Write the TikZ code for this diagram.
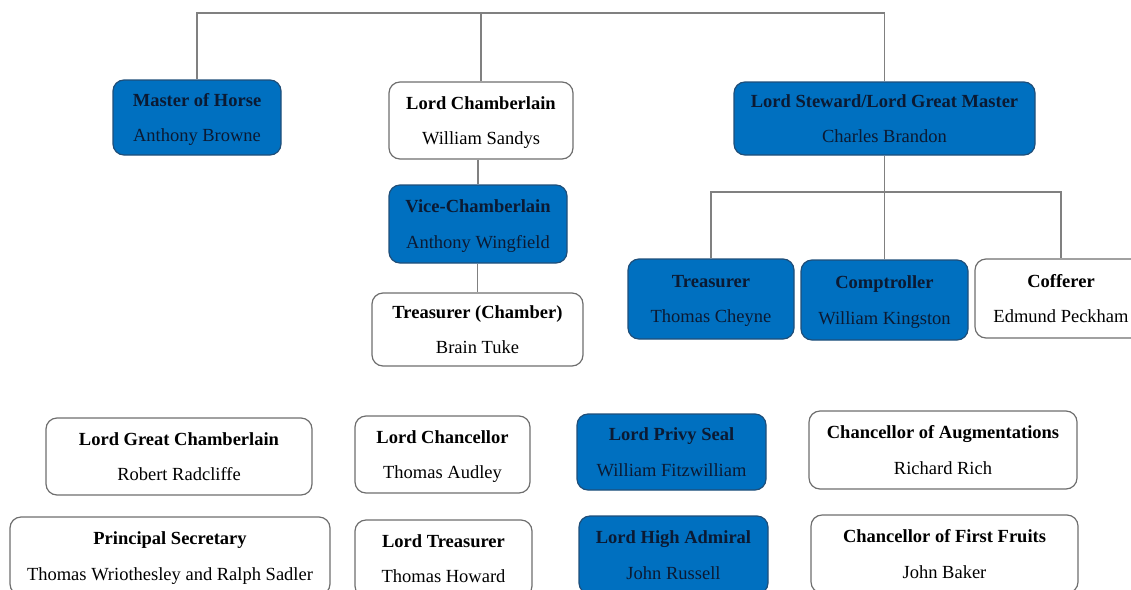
\documentclass[tikz,border=0pt]{standalone}
\usepackage{fontspec}
\setmainfont{Liberation Serif}
\definecolor{officeblue}{HTML}{0070C0}
\definecolor{officeedge}{HTML}{1F4E79}
\definecolor{officeink}{HTML}{0B1A33}
\definecolor{boxedge}{HTML}{6E6E6E}
\definecolor{linkgray}{HTML}{808080}

\begin{document}
\begin{tikzpicture}[x=1pt,y=-1pt]
		\tikzstyle {office} = [rounded corners=11pt, align=center, inner sep=3pt,
		    font=\fontsize{18.5}{35.5}\selectfont, line width=1.2pt, text depth=-5pt]
		\tikzstyle {white box} = [office, draw=boxedge, fill=white, text=black]
		\tikzstyle {blue box} = [office, draw=officeedge, fill=officeblue, text=officeink]
		\tikzstyle {link} = [draw=linkgray, line width=1.4pt]

		\useasboundingbox (0,0) rectangle (1131,589);
		\clip (0,0) rectangle (1131,589);

		\node[blue box, minimum width=168pt, minimum height=75pt] (master) at (197,117.5)
		    {\textbf{Master of Horse}\\Anthony Browne};
		\node[white box, minimum width=184pt, minimum height=77pt] (chamberlain) at (481,120.5)
		    {\textbf{Lord Chamberlain}\\William Sandys};
		\node[blue box, minimum width=301pt, minimum height=73pt] (steward) at (884.5,118.5)
		    {\textbf{Lord Steward/Lord Great Master}\\Charles Brandon};

		\node[blue box, minimum width=178pt, minimum height=78pt] (vice) at (478,224)
		    {\textbf{Vice-Chamberlain}\\Anthony Wingfield};
		\node[white box, minimum width=211pt, minimum height=73pt] (chambertreas) at (477.5,329.5)
		    {\textbf{Treasurer (Chamber)}\\Brain Tuke};

		\node[blue box, minimum width=166pt, minimum height=80pt] (treasurer) at (711,299)
		    {\textbf{Treasurer}\\Thomas Cheyne};
		\node[blue box, minimum width=167pt, minimum height=80pt] (comptroller) at (884.5,300)
		    {\textbf{Comptroller}\\William Kingston};
		\node[white box, minimum width=172pt, minimum height=79pt] (cofferer) at (1061,298.5)
		    {\textbf{Cofferer}\\Edmund Peckham};

		\node[white box, minimum width=266pt, minimum height=77pt] (greatchamb) at (179,456.5)
		    {\textbf{Lord Great Chamberlain}\\Robert Radcliffe};
		\node[white box, minimum width=175pt, minimum height=77pt] (chancellor) at (442.5,454.5)
		    {\textbf{Lord Chancellor}\\Thomas Audley};
		\node[blue box, minimum width=189pt, minimum height=76pt] (privyseal) at (671.5,452)
		    {\textbf{Lord Privy Seal}\\William Fitzwilliam};
		\node[white box, minimum width=268pt, minimum height=78pt] (augment) at (943,450)
		    {\textbf{Chancellor of Augmentations}\\Richard Rich};

		\node[white box, minimum width=320pt, minimum height=78pt] (secretary) at (170,556)
		    {\textbf{Principal Secretary}\\Thomas Wriothesley and Ralph Sadler};
		\node[white box, minimum width=177pt, minimum height=77pt] (lordtreas) at (443.5,558.5)
		    {\textbf{Lord Treasurer}\\Thomas Howard};
		\node[blue box, minimum width=189pt, minimum height=78pt] (admiral) at (673.5,555)
		    {\textbf{Lord High Admiral}\\John Russell};
		\node[white box, minimum width=267pt, minimum height=78pt] (firstfruits) at (944.5,554)
		    {\textbf{Chancellor of First Fruits}\\John Baker};

		\coordinate (topbar) at (481,13);
		\coordinate (stewbar) at (884.5,192);

		\draw[link] (master.north) |- (topbar) -| (steward.north);
		\draw[link] (topbar) -- (chamberlain.north);
		\draw[link] (chamberlain.south -| vice.north) -- (vice.north);
		\draw[link] (vice.south -| chambertreas.north) -- (chambertreas.north);

		\draw[link] (steward.south) -- (stewbar);
		\draw[link] (treasurer.north) |- (stewbar) -| (cofferer.north);
		\draw[link] (stewbar) -- (comptroller.north);

	\end{tikzpicture}
\end{document}
